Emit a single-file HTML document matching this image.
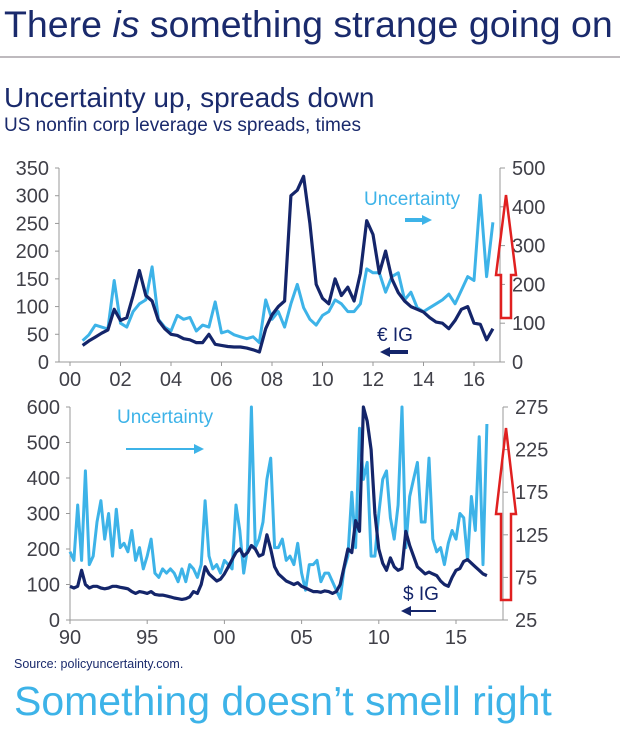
<!DOCTYPE html>
<html><head><meta charset="utf-8"><style>
body{margin:0;background:#fff;width:620px;height:730px;overflow:hidden;font-family:"Liberation Sans",Arial,sans-serif}
</style></head><body>
<svg id="s" width="620" height="730" xmlns="http://www.w3.org/2000/svg" font-family="Liberation Sans, Arial, sans-serif">
<text x="4" y="37" font-size="37.5" fill="#1a2a6c">There <tspan font-style="italic">is</tspan> something strange going on</text>
<line x1="0" y1="57" x2="620" y2="57" stroke="#a8a4a8" stroke-width="1.5"/>
<text x="4" y="107" font-size="28" fill="#1a2a6c">Uncertainty up, spreads down</text>
<text x="4" y="131" font-size="19" fill="#1a2a6c">US nonfin corp leverage vs spreads, times</text>
<g id="topc"></g>
<g id="botc"></g>
<text x="14" y="668" font-size="12.5" fill="#1a2a6c">Source: policyuncertainty.com.</text>
<text x="14" y="715" font-size="41" fill="#3db3e8">Something doesn’t smell right</text>
</svg>
<script>
// ---- top chart data ----
const topStart = 2000.5, topStep = 0.25;
const eurIG = [30,38,45,52,58,95,75,80,120,165,120,110,75,60,50,48,42,40,35,35,50,32,30,28,27,27,25,22,18,60,85,100,110,300,310,335,250,140,115,105,150,120,135,110,160,255,230,160,200,150,125,110,100,95,90,80,72,70,60,75,95,100,70,68,40,60];
const topUncert = [55,70,95,90,85,210,100,90,130,150,160,245,110,90,80,120,110,115,80,95,90,155,75,80,70,65,60,65,50,160,110,130,90,150,200,140,110,95,120,130,160,150,130,130,150,240,230,230,180,220,230,160,180,140,130,140,150,160,175,150,185,220,210,430,220,360];
const topXTicks = ["00","02","04","06","08","10","12","14","16"];
const topLeftTicks = [0,50,100,150,200,250,300,350];
const topRightTicks = [0,100,200,300,400,500];
// ---- bottom chart data ----
const botStart = 1990, botStep = 0.25;
const usdIG = [95,90,95,140,100,90,95,95,90,88,90,95,95,92,90,88,80,75,80,78,75,80,72,70,70,68,65,62,60,58,60,65,80,75,100,150,130,120,110,115,130,150,170,190,200,180,190,210,200,180,185,240,200,150,130,120,110,105,100,105,95,90,85,80,80,78,82,80,75,80,100,150,200,190,280,250,600,560,480,300,200,160,140,175,150,140,145,250,210,180,150,140,130,135,130,125,110,100,95,120,140,145,165,170,160,150,140,130,125];
const botUncert = [105,95,160,95,200,90,100,140,165,120,150,100,155,110,115,105,130,95,110,85,100,120,80,75,85,80,85,80,70,85,70,90,85,75,90,165,100,85,90,80,95,90,85,160,130,80,110,275,110,120,140,190,215,110,110,120,95,100,90,115,80,60,90,90,95,70,80,80,70,60,50,85,100,175,110,250,190,210,100,100,150,190,200,145,120,160,275,110,170,190,210,140,140,215,120,105,110,90,115,130,120,150,145,95,170,130,240,90,255];
const botXTicks = ["90","95","00","05","10","15"];
const botLeftTicks = [0,100,200,300,400,500,600];
const botRightTicks = [25,75,125,175,225,275];

const NS="http://www.w3.org/2000/svg";
function mk(tag,attrs,parent){const e=document.createElementNS(NS,tag);for(const k in attrs)e.setAttribute(k,attrs[k]);parent.appendChild(e);return e;}
const NAVY="#14256a", LB="#3db3e8", TXT="#404048";

function drawChart(g,o){
  const xs=yr=>o.x0+(yr-o.yr0)*o.px;
  const yl=v=>o.yb-(v-o.lmin)/(o.lmax-o.lmin)*(o.yb-o.yt);
  const yr_=v=>o.yb-(v-o.rmin)/(o.rmax-o.rmin)*(o.yb-o.yt);
  const ax=mk('path',{d:'M'+o.ax+' '+o.yt+'V'+o.yb+'H'+o.rx+'V'+o.yt,fill:'none',stroke:'#999',"stroke-width":1},g);
  
  
  o.lt.forEach(v=>{
    const t=mk('text',{x:o.ax-10,y:yl(v)+7,"text-anchor":"end","font-size":20,fill:TXT},g);t.textContent=v;
    
    
    mk('line',{x1:o.ax-4,x2:o.ax,y1:yl(v),y2:yl(v),stroke:'#999'},g);
  });
  o.rt.forEach(v=>{
    const t=mk('text',{x:o.rx+12,y:yr_(v)+7,"font-size":20,fill:TXT},g);t.textContent=v;
    
    
    mk('line',{x1:o.rx,x2:o.rx+5,y1:yr_(v),y2:yr_(v),stroke:'#999'},g);
  });
  o.xt.forEach((lab,i)=>{
    const x=xs(o.yr0+i*o.xstep);
    const t=mk('text',{x:x,y:o.yb+24,"text-anchor":"middle","font-size":20,fill:TXT},g);t.textContent=lab;
    
    
    mk('line',{x1:x,x2:x,y1:o.yb,y2:o.yb+4,stroke:'#999'},g);
  });
  let d='';o.u.forEach((v,i)=>{d+=(i?'L':'M')+xs(o.s+i*o.st).toFixed(1)+' '+Math.max(o.yt,yr_(v)).toFixed(1);});
  const p1=mk('path',{d:d,fill:'none',stroke:LB,"stroke-width":3,"stroke-linejoin":"round"},g);
  
  
  d='';o.ig.forEach((v,i)=>{d+=(i?'L':'M')+xs(o.s+i*o.st).toFixed(1)+' '+Math.max(o.yt,yl(v)).toFixed(1);});
  const p2=mk('path',{d:d,fill:'none',stroke:NAVY,"stroke-width":3.2,"stroke-linejoin":"round"},g);
  
  
  const a=o.arrow, cx=506;
  const ar=mk('path',{d:'M'+cx+' '+a[0]+'L'+(cx+10)+' '+a[1]+'H'+(cx+5)+'V'+a[2]+'H'+(cx-5)+'V'+a[1]+'H'+(cx-10)+'Z',fill:'none',stroke:'#e02020',"stroke-width":2.5},g);
  
  
}
const gTop=document.getElementById('topc'), gBot=document.getElementById('botc');
drawChart(gTop,{x0:70,yr0:2000,px:25.25,xstep:2,ax:59,rx:500,yt:168,yb:362,lmin:0,lmax:350,rmin:0,rmax:500,lt:topLeftTicks,rt:topRightTicks,xt:topXTicks,s:topStart,st:topStep,u:topUncert,ig:eurIG,arrow:[195,275,318]});
drawChart(gBot,{x0:70,yr0:1990,px:15.44,xstep:5,ax:70,rx:503,yt:407,yb:620,lmin:0,lmax:600,rmin:25,rmax:275,lt:botLeftTicks,rt:botRightTicks,xt:botXTicks,s:botStart,st:botStep,u:botUncert,ig:usdIG,arrow:[428,514,600]});
function label(g,x,y,txt,col,name){const t=mk('text',{x:x,y:y,"font-size":19,fill:col},g);t.textContent=txt;
  
  }
label(gTop,364,205,'Uncertainty',LB,'uncertainty-legend-label');
label(gTop,377,341,'€ IG',NAVY,'eur-ig-legend-label');
label(gBot,117,423,'Uncertainty',LB,'uncertainty-legend-label');
label(gBot,403,600,'$ IG',NAVY,'usd-ig-legend-label');
function arrowLine(g,x1,x2,y,col,w,name){const l=mk('path',{d:'M'+x1+' '+y+'H'+x2,stroke:col,"stroke-width":w},g);
  
  
  const dir=x2>x1?1:-1;const h=mk('path',{d:'M'+(x2+dir*4)+' '+y+'L'+(x2-dir*6)+' '+(y-5)+'V'+(y+5)+'Z',fill:col},g);
  
  }
arrowLine(gTop,405,428,220,LB,4,'uncertainty-arrow');
arrowLine(gTop,408,384,352,NAVY,4,'eur-ig-arrow');
arrowLine(gBot,126,200,449,LB,2,'uncertainty-arrow');
arrowLine(gBot,436,405,611,NAVY,2,'usd-ig-arrow');
</script>
</body></html>
